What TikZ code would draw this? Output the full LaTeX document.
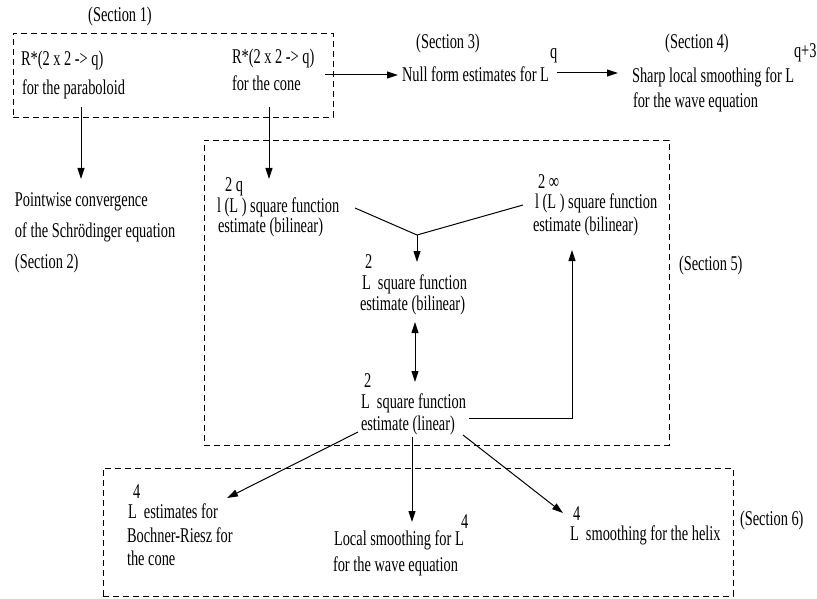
\documentclass[tikz,border=0pt]{standalone}
\usepackage{fontspec}
\setmainfont{Liberation Serif}[FakeStretch=0.685]
\usetikzlibrary{arrows.meta}
\begin{document}
\begin{tikzpicture}[x=1pt,y=1pt,
  txt/.style={anchor=base west,inner sep=0pt,outer sep=0pt,text height=14pt,text depth=4pt,font=\fontsize{21}{25}\selectfont},
  ctxt/.style={txt,anchor=base},
  dbox/.style={draw,dash pattern=on 6pt off 4pt,line width=0.9pt,inner sep=0pt,outer sep=0pt,anchor=north west},
  arr/.style={line width=1pt,-{Triangle[length=11pt,width=7pt]}},
  darr/.style={line width=1pt,{Triangle[length=11pt,width=7pt]}-{Triangle[length=11pt,width=7pt]}},
  ln/.style={line width=1pt}]
\useasboundingbox (0,0) rectangle (817,-599);
% boxes
\node[dbox,minimum width=320pt,minimum height=84pt] (box1) at (13,-33) {};
\node[dbox,minimum width=465pt,minimum height=305pt] (box5) at (204,-140) {};
\node[dbox,minimum width=630pt,minimum height=128pt] (box6) at (103,-468) {};
% section 1
\node[ctxt] (sec1) at (120,-22) {(Section 1)};
\node[txt] (pa1) at (21,-66) {R*(2 x 2 -> q)};
\node[txt] (pa2) at (22,-95) {for the paraboloid};
\node[txt] (co1) at (232,-64) {R*(2 x 2 -> q)};
\node[txt] (co2) at (232,-91) {for the cone};
% sections 3, 4
\node[ctxt] (sec3) at (448,-49) {(Section 3)};
\node[ctxt] (sec4) at (697,-49) {(Section 4)};
\node[txt] (null) at (402,-82) {Null form estimates for L};
\node[txt] (nullq) at (550,-59) {q};
\node[txt] (sharp) at (632,-83) {Sharp local smoothing for L};
\node[txt] (sharpq) at (794,-58) {q+3};
\node[txt] (wave1) at (633,-108) {for the wave equation};
% section 2
\node[txt] (pw1) at (15,-207) {Pointwise convergence};
\node[txt] (pw2) at (15,-237) {of the Schrödinger equation};
\node[txt] (pw3) at (15,-268) {(Section 2)};
% section 5
\node[txt] (lq0) at (225,-192) {2 q};
\node[txt] (lq1) at (217,-212) {l (L ) square function};
\node[txt] (lq2) at (218,-233) {estimate (bilinear)};
\node[txt] (li0) at (538,-189) {2 ∞};
\node[txt] (li1) at (535,-208) {l (L ) square function};
\node[txt] (li2) at (533,-231) {estimate (bilinear)};
\node[txt] (lb0) at (365,-268) {2};
\node[txt] (lb1) at (362,-289) {L\ \ square function};
\node[txt] (lb2) at (360,-310) {estimate (bilinear)};
\node[txt] (ll0) at (364,-387) {2};
\node[txt] (ll1) at (361,-408) {L\ \ square function};
\node[txt] (ll2) at (361,-430) {estimate (linear)};
\node[txt] (sec5) at (679,-270) {(Section 5)};
% section 6
\node[txt] (br0) at (133,-498) {4};
\node[txt] (br1) at (128,-518) {L\ \ estimates for};
\node[txt] (br2) at (127,-542) {Bochner-Riesz for};
\node[txt] (br3) at (127,-565) {the cone};
\node[txt] (ls0) at (461,-528) {4};
\node[txt] (ls1) at (334,-545) {Local smoothing for L};
\node[txt] (ls2) at (333,-571) {for the wave equation};
\node[txt] (hx0) at (573,-520) {4};
\node[txt] (hx1) at (570,-540) {L\ \ smoothing for the helix};
\node[txt] (sec6) at (740,-525) {(Section 6)};
% connector points
\coordinate (s1out) at (325,-75);
\coordinate (s3out) at (557,-73);
\coordinate (paout) at (81,-107);
\coordinate (pwin) at (81,-179);
\coordinate (coout) at (269,-107);
\coordinate (lqin) at (269,-179);
\coordinate (lqout) at (355,-208);
\coordinate (liout) at (523,-205);
\coordinate (J) at (417,-235);
\coordinate (lbin) at (417,-262);
\coordinate (lbout) at (415,-322);
\coordinate (llin) at (415,-382);
\coordinate (llr) at (469,-418);
\coordinate (corner) at (572,-418);
\coordinate (liin) at (572,-250);
\coordinate (lla) at (358,-432);
\coordinate (brin) at (227,-498);
\coordinate (llb) at (412,-437);
\coordinate (lsin) at (412,-522);
\coordinate (llc) at (463,-435);
\coordinate (hxin) at (563,-513);
% connectors
\draw[arr,shorten >=4pt] (s1out) -- (s1out -| null.west);
\draw[arr,shorten >=14pt] (s3out) -- (s3out -| sharp.west);
\draw[arr] (paout) -- (pwin);
\draw[arr] (coout) -- (lqin);
\draw[ln] (lqout) -- (J) -- (liout);
\draw[arr] (J) -- (lbin);
\draw[darr] (lbout) -- (llin);
\draw[arr] (llr) -- (corner) -- (liin);
\draw[arr] (lla) -- (brin);
\draw[arr] (llb) -- (lsin);
\draw[arr] (llc) -- (hxin);
\end{tikzpicture}
\end{document}
